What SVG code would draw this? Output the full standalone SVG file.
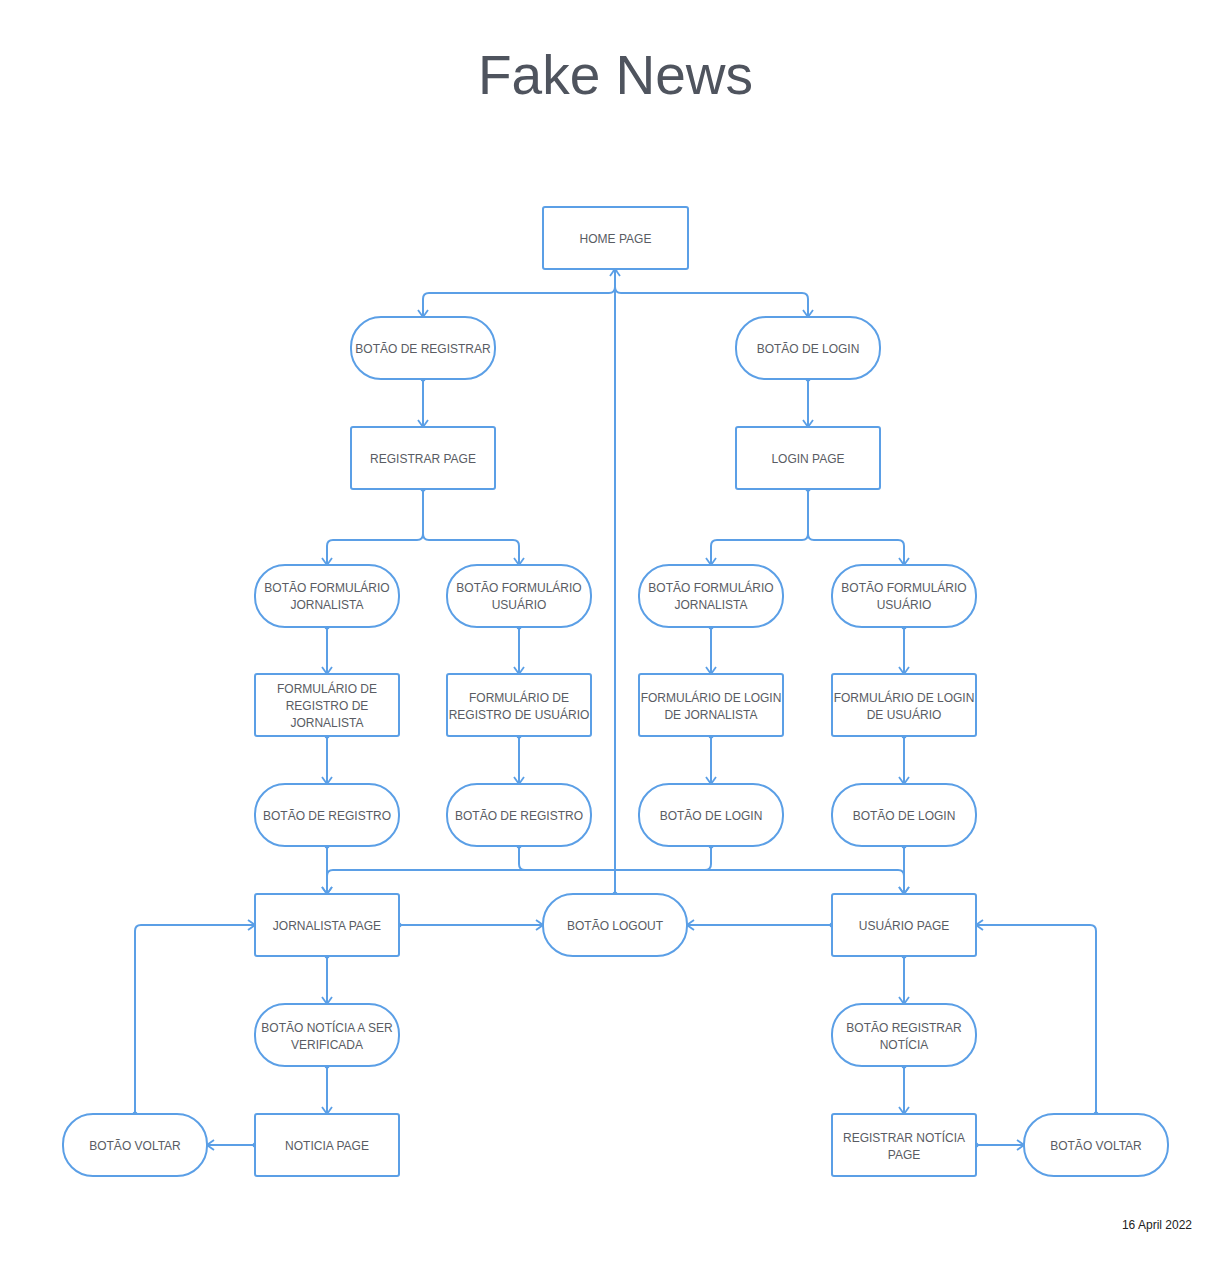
<svg xmlns="http://www.w3.org/2000/svg" width="1231" height="1280" viewBox="0 0 1231 1280">
<style>
.n rect{fill:#fff;stroke:#5b9fe6;stroke-width:2}
.n text{font-family:"Liberation Sans",Arial,sans-serif;font-size:12px;fill:#595c63;text-anchor:middle}
#connectors path{fill:none;stroke:#5b9fe6;stroke-width:2;marker-start:url(#dot);marker-end:url(#arr)}
.title{font-family:"Liberation Sans",Arial,sans-serif;font-size:55px;fill:#4f545e;text-anchor:middle}
.date{font-family:"Liberation Sans",Arial,sans-serif;font-size:12px;fill:#222;text-anchor:end}
</style>
<defs>
<marker id="arr" viewBox="0 0 12 12" refX="11" refY="6" markerWidth="12" markerHeight="12" markerUnits="userSpaceOnUse" orient="auto">
<path d="M4,1 L11,6 L4,11" fill="none" stroke="#5b9fe6" stroke-width="1.8"/>
</marker>
<marker id="dot" viewBox="0 0 6 6" refX="3" refY="3" markerWidth="6" markerHeight="6" markerUnits="userSpaceOnUse">
<circle cx="3" cy="3" r="2.5" fill="#5b9fe6"/>
</marker>
</defs>
<rect width="1231" height="1280" fill="#fff"/>
<text class="title" x="615.5" y="94">Fake News</text>
<text class="date" x="1192" y="1229">16 April 2022</text>

<g id="connectors">
<path d="M615,269 V287 Q615,293 609,293 H429 Q423,293 423,299 V317"/>
<path d="M615,269 V287 Q615,293 621,293 H802 Q808,293 808,299 V317"/>
<path d="M615,894 V269"/>
<path d="M423,379 V427"/>
<path d="M808,379 V427"/>
<path d="M423,489 V534 Q423,540 417,540 H333 Q327,540 327,546 V565"/>
<path d="M423,489 V534 Q423,540 429,540 H513 Q519,540 519,546 V565"/>
<path d="M808,489 V534 Q808,540 802,540 H717 Q711,540 711,546 V565"/>
<path d="M808,489 V534 Q808,540 814,540 H898 Q904,540 904,546 V565"/>
<path d="M327,627 V674"/>
<path d="M519,627 V674"/>
<path d="M711,627 V674"/>
<path d="M904,627 V674"/>
<path d="M327,736 V784"/>
<path d="M519,736 V784"/>
<path d="M711,736 V784"/>
<path d="M904,736 V784"/>
<path d="M327,846 V894"/>
<path d="M519,846 V864 Q519,870 525,870 H898 Q904,870 904,876 V894"/>
<path d="M711,846 V864 Q711,870 705,870 H333 Q327,870 327,876 V894"/>
<path d="M904,846 V894"/>
<path d="M399,925 H543"/>
<path d="M832,925 H687"/>
<path d="M327,956 V1004"/>
<path d="M327,1066 V1114"/>
<path d="M904,956 V1004"/>
<path d="M904,1066 V1114"/>
<path d="M255,1145 H207"/>
<path d="M135,1114 V931 Q135,925 141,925 H255"/>
<path d="M976,1145 H1024"/>
<path d="M1096,1114 V931 Q1096,925 1090,925 H976"/>
</g>

<g id="home" class="n"><rect x="543" y="207" width="145" height="62" rx="2"/><text x="615.5" y="243">HOME PAGE</text></g>
<g id="btn-registrar" class="n"><rect x="351" y="317" width="144" height="62" rx="30"/><text x="423" y="353">BOTÃO DE REGISTRAR</text></g>
<g id="btn-login" class="n"><rect x="736" y="317" width="144" height="62" rx="30"/><text x="808" y="353">BOTÃO DE LOGIN</text></g>
<g id="registrar-page" class="n"><rect x="351" y="427" width="144" height="62" rx="2"/><text x="423" y="463">REGISTRAR PAGE</text></g>
<g id="login-page" class="n"><rect x="736" y="427" width="144" height="62" rx="2"/><text x="808" y="463">LOGIN PAGE</text></g>

<g id="btn-form-jorn-reg" class="n"><rect x="255" y="565" width="144" height="62" rx="30"/><text x="327" y="592">BOTÃO FORMULÁRIO</text><text x="327" y="609">JORNALISTA</text></g>
<g id="btn-form-usu-reg" class="n"><rect x="447" y="565" width="144" height="62" rx="30"/><text x="519" y="592">BOTÃO FORMULÁRIO</text><text x="519" y="609">USUÁRIO</text></g>
<g id="btn-form-jorn-login" class="n"><rect x="639" y="565" width="144" height="62" rx="30"/><text x="711" y="592">BOTÃO FORMULÁRIO</text><text x="711" y="609">JORNALISTA</text></g>
<g id="btn-form-usu-login" class="n"><rect x="832" y="565" width="144" height="62" rx="30"/><text x="904" y="592">BOTÃO FORMULÁRIO</text><text x="904" y="609">USUÁRIO</text></g>

<g id="form-reg-jorn" class="n"><rect x="255" y="674" width="144" height="62" rx="2"/><text x="327" y="693">FORMULÁRIO DE</text><text x="327" y="710">REGISTRO DE</text><text x="327" y="727">JORNALISTA</text></g>
<g id="form-reg-usu" class="n"><rect x="447" y="674" width="144" height="62" rx="2"/><text x="519" y="702">FORMULÁRIO DE</text><text x="519" y="719">REGISTRO DE USUÁRIO</text></g>
<g id="form-login-jorn" class="n"><rect x="639" y="674" width="144" height="62" rx="2"/><text x="711" y="702">FORMULÁRIO DE LOGIN</text><text x="711" y="719">DE JORNALISTA</text></g>
<g id="form-login-usu" class="n"><rect x="832" y="674" width="144" height="62" rx="2"/><text x="904" y="702">FORMULÁRIO DE LOGIN</text><text x="904" y="719">DE USUÁRIO</text></g>

<g id="btn-registro-jorn" class="n"><rect x="255" y="784" width="144" height="62" rx="30"/><text x="327" y="820">BOTÃO DE REGISTRO</text></g>
<g id="btn-registro-usu" class="n"><rect x="447" y="784" width="144" height="62" rx="30"/><text x="519" y="820">BOTÃO DE REGISTRO</text></g>
<g id="btn-login-jorn" class="n"><rect x="639" y="784" width="144" height="62" rx="30"/><text x="711" y="820">BOTÃO DE LOGIN</text></g>
<g id="btn-login-usu" class="n"><rect x="832" y="784" width="144" height="62" rx="30"/><text x="904" y="820">BOTÃO DE LOGIN</text></g>

<g id="jornalista-page" class="n"><rect x="255" y="894" width="144" height="62" rx="2"/><text x="327" y="930">JORNALISTA PAGE</text></g>
<g id="btn-logout" class="n"><rect x="543" y="894" width="144" height="62" rx="30"/><text x="615" y="930">BOTÃO LOGOUT</text></g>
<g id="usuario-page" class="n"><rect x="832" y="894" width="144" height="62" rx="2"/><text x="904" y="930">USUÁRIO PAGE</text></g>

<g id="btn-noticia" class="n"><rect x="255" y="1004" width="144" height="62" rx="30"/><text x="327" y="1032">BOTÃO NOTÍCIA A SER</text><text x="327" y="1049">VERIFICADA</text></g>
<g id="btn-reg-noticia" class="n"><rect x="832" y="1004" width="144" height="62" rx="30"/><text x="904" y="1032">BOTÃO REGISTRAR</text><text x="904" y="1049">NOTÍCIA</text></g>

<g id="btn-voltar-left" class="n"><rect x="63" y="1114" width="144" height="62" rx="30"/><text x="135" y="1150">BOTÃO VOLTAR</text></g>
<g id="noticia-page" class="n"><rect x="255" y="1114" width="144" height="62" rx="2"/><text x="327" y="1150">NOTICIA PAGE</text></g>
<g id="reg-noticia-page" class="n"><rect x="832" y="1114" width="144" height="62" rx="2"/><text x="904" y="1142">REGISTRAR NOTÍCIA</text><text x="904" y="1159">PAGE</text></g>
<g id="btn-voltar-right" class="n"><rect x="1024" y="1114" width="144" height="62" rx="30"/><text x="1096" y="1150">BOTÃO VOLTAR</text></g>
</svg>
